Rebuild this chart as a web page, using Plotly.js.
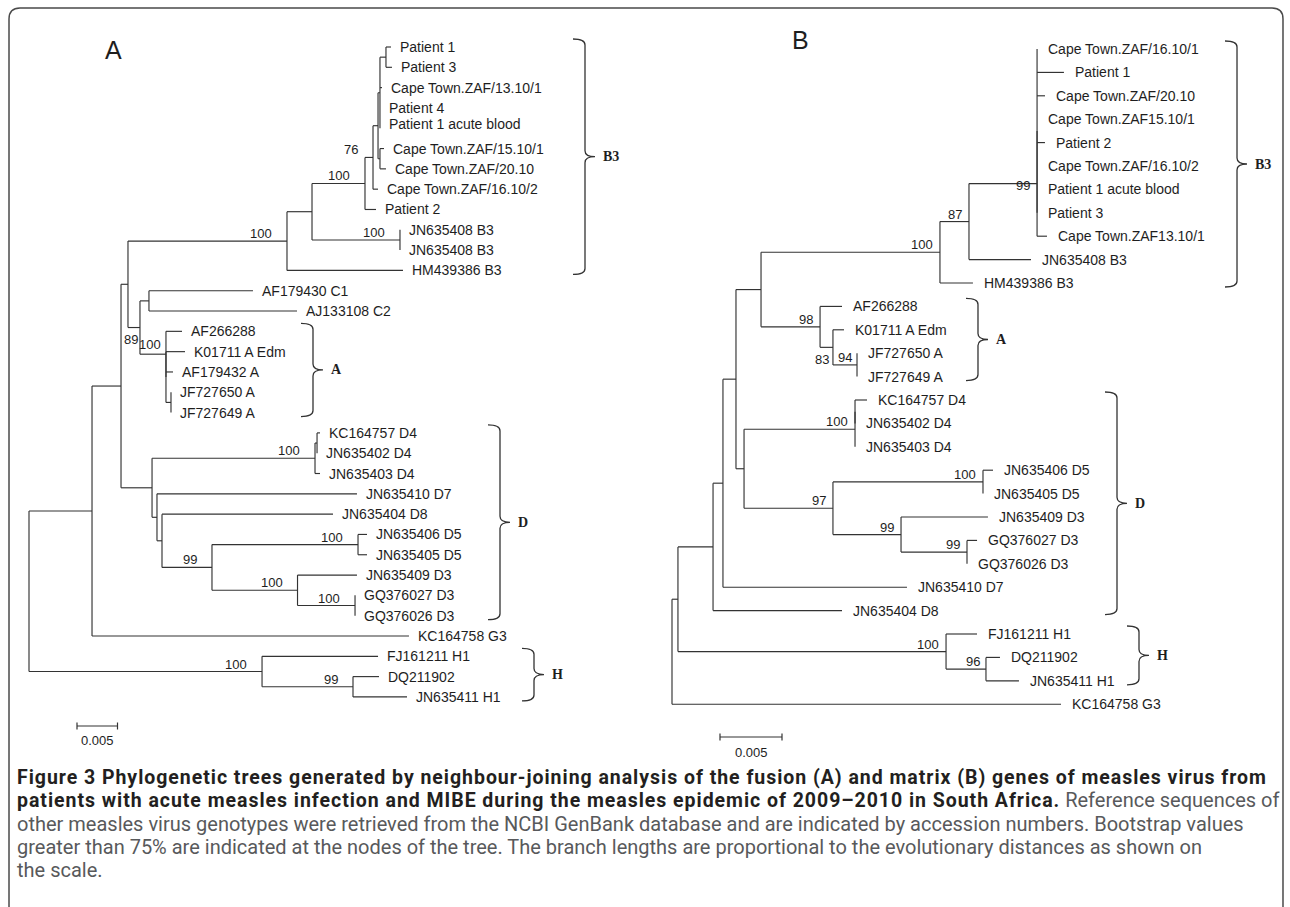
<!DOCTYPE html>
<html>
<head>
<meta charset="utf-8">
<script src="https://cdn.plot.ly/plotly-3.0.1.min.js"></script>
<style>
html,body{margin:0;padding:0;background:#fff;}
#chart{width:1290px;height:907px;}
</style>
</head>
<body>
<div id="chart"></div>
<script>
// ================= DATA =================
// Tree A : fusion gene (node id, parent id, distance from root, bootstrap, leaf label)
const A_node = ['R','N1','N2','N3','N4','N6','N7','N9','N10','N10a','N13','a1','a2','a3','a4','a5','N12','a6','a7','a8','a9','N8','a10','a11','a12','N5','N14','a13','a14','N15','a15','N15b','a16','a17','N16','a18','a19','ND','ND4','ND4b','a20','a21','a22','NDb','a23','NDc','a24','NDd','ND5','a25','a26','ND3','a27','NGQ','a28','a29','a30','NH','a31','NH2','a32','a33'];
const A_parent = ['','R','N1','N2','N3','N4','N6','N7','N9','N10','N10a','N13','N13','N10a','N10a','N10a','N10','N12','N12','N9','N7','N6','N8','N8','N4','N3','N5','N14','N14','N5','N15','N15','N15b','N15b','N15b','N16','N16','N2','ND','ND4','ND4b','ND4b','ND4','ND','NDb','NDb','NDc','NDc','NDd','ND5','ND5','NDd','ND3','ND3','NGQ','NGQ','N1','R','NH','NH','NH2','NH2'];
const A_dist = [0,0.00778,0.01136,0.01222,0.03185,0.03494,0.04148,0.04247,0.04309,0.04333,0.04407,0.04469,0.04481,0.04358,0.04333,0.04333,0.04333,0.04383,0.04407,0.04309,0.04284,0.04580,0.04580,0.04580,0.04617,0.01370,0.01481,0.02765,0.03309,0.01691,0.01889,0.01691,0.01926,0.01778,0.01753,0.01753,0.01753,0.01519,0.03531,0.03556,0.03593,0.03556,0.03593,0.01580,0.04049,0.01642,0.03753,0.02259,0.04062,0.04173,0.04173,0.03315,0.04049,0.04025,0.04025,0.04025,0.04691,0.02877,0.04309,0.04000,0.04321,0.04667];
const A_boot = ['','','','','100','','100','76','','','','','','','','','','','','','','100','','','','89','','','','100','','','','','','','','','100','','','','','','','','','99','100','','','100','','100','','','','100','','99','',''];
const A_label = ['','','','','','','','','','','','Patient 1','Patient 3','Cape Town.ZAF/13.10/1','Patient 4','Patient 1 acute blood','','Cape Town.ZAF/15.10/1','Cape Town.ZAF/20.10','Cape Town.ZAF/16.10/2','Patient 2','','JN635408 B3','JN635408 B3','HM439386 B3','','','AF179430 C1','AJ133108 C2','','AF266288','','K01711 A Edm','AF179432 A','','JF727650 A','JF727649 A','','','','KC164757 D4','JN635402 D4','JN635403 D4','','JN635410 D7','','JN635404 D8','','','JN635406 D5','JN635405 D5','','JN635409 D3','','GQ376027 D3','GQ376026 D3','KC164758 G3','','FJ161211 H1','','DQ211902','JN635411 H1'];
const A_groups = ['B3','A','D','H'];
const A_groupFirst = ['a1','a15','a20','a31'];
const A_groupLast = ['a12','a19','a29','a33'];
const A_scaleLen = 0.005;

// Tree B : matrix gene
const B_node = ['RB','Nw','Nz','Ny','Nx','Nt','Nb3','N87','N99','N99a','b1','b2','b3','b4','b5','b6','b7','b8','b9','b10','b11','N98','b12','N83','b13','N94','b14','b15','NdD','ND4','ND4b','b16','b17','b18','N97','ND5','b19','b20','N99b','b21','N99c','b22','b23','b24','b25','NH','b26','NH96','b27','b28','b29'];
const B_parent = ['','RB','Nw','Nz','Ny','Nx','Nt','Nb3','N87','N99','N99a','N99a','N99a','N99a','N99a','N99a','N99a','N99a','N99','N87','Nb3','Nt','N98','N98','N83','N83','N94','N94','Nx','NdD','ND4','ND4b','ND4b','ND4','NdD','N97','ND5','ND5','N97','N99b','N99b','N99c','N99c','Ny','Nz','Nw','NH','NH','NH96','NH96','RB'];
const B_dist = [0,0.00048,0.00331,0.00411,0.00516,0.00718,0.02161,0.02395,0.02944,0.02944,0.02944,0.03161,0.03008,0.02944,0.03008,0.02944,0.02944,0.02944,0.03024,0.02895,0.02427,0.01194,0.01371,0.01298,0.01387,0.01492,0.01492,0.01492,0.00581,0.01476,0.01476,0.01573,0.01476,0.01476,0.01298,0.02508,0.02589,0.02508,0.01847,0.02548,0.02379,0.02460,0.02379,0.01895,0.01371,0.02210,0.02460,0.02532,0.02645,0.02798,0.03137];
const B_boot = ['','','','','','','100','87','99','','','','','','','','','','','','','98','','83','','94','','','','100','','','','','97','100','','','99','','99','','','','','100','','96','','',''];
const B_label = ['','','','','','','','','','','Cape Town.ZAF/16.10/1','Patient 1','Cape Town.ZAF/20.10','Cape Town.ZAF15.10/1','Patient 2','Cape Town.ZAF/16.10/2','Patient 1 acute blood','Patient 3','Cape Town.ZAF13.10/1','JN635408 B3','HM439386 B3','','AF266288','','K01711 A Edm','','JF727650 A','JF727649 A','','','','KC164757 D4','JN635402 D4','JN635403 D4','','','JN635406 D5','JN635405 D5','','JN635409 D3','','GQ376027 D3','GQ376026 D3','JN635410 D7','JN635404 D8','','FJ161211 H1','','DQ211902','JN635411 H1','KC164758 G3'];
const B_groups = ['B3','A','D','H'];
const B_groupFirst = ['b1','b12','b16','b26'];
const B_groupLast = ['b11','b15','b25','b28'];
const B_scaleLen = 0.005;

const captionLines = [
  {bold:'Figure 3 Phylogenetic trees generated by neighbour-joining analysis of the fusion (A) and matrix (B) genes of measles virus from', reg:''},
  {bold:'patients with acute measles infection and MIBE during the measles epidemic of 2009\u20132010 in South Africa.', reg:' Reference sequences of'},
  {bold:'', reg:'other measles virus genotypes were retrieved from the NCBI GenBank database and are indicated by accession numbers. Bootstrap values'},
  {bold:'', reg:'greater than 75% are indicated at the nodes of the tree. The branch lengths are proportional to the evolutionary distances as shown on'},
  {bold:'', reg:'the scale.'}
];

// ================= LAYOUT CONFIG =================
const W = 1290, H = 907;
const PANEL = {
  A: {xa:'x', ya:'y', rootPx:29, k:8100, y0:47, dy:20.31, leafDx:7, bsDx:-13,
      bar:{x:77, y:726, ly:740}, brX:[585,313,500,534], letter:{t:'A', x:113, y:50},
      nudge:{N5:{dx:13,dy:-19}, N15:{dx:10,dy:2}}, labelNudge:{a5:4}},
  B: {xa:'x2', ya:'y2', rootPx:672, k:12400, y0:49, dy:23.4, leafDx:9, bsDx:-5,
      bar:{x:720, y:737, ly:752}, brX:[1237,978,1117,1139], letter:{t:'B', x:800, y:40},
      nudge:{N83:{dx:3,dy:-20}, N99:{dx:0,dy:-9}, N94:{dx:2,dy:0}, NH96:{dx:1,dy:0}}, labelNudge:{}}
};
const LINE = '#333333', TXT = '#1e1e1e';
const LABEL_FONT = 'Liberation Sans, Arial, sans-serif';

function layoutTree(ids, parents, dists){
  const pos = {}; ids.forEach((id,i)=>pos[id]=i);
  const kids = ids.map(()=>[]); let root = 0;
  parents.forEach((p,i)=>{ if(p==='') root=i; else kids[pos[p]].push(i); });
  const y = new Array(ids.length); let leaf = 0;
  const walk = i => {
    if(!kids[i].length){ y[i] = leaf++; return; }
    kids[i].forEach(walk);
    const k = kids[i]; y[i] = (y[k[0]] + y[k[k.length-1]])/2;
  };
  walk(root);
  const xs=[], ys=[];
  kids.forEach((k,i)=>{
    if(!k.length) return;
    xs.push(dists[i], dists[i], null); ys.push(y[k[0]], y[k[k.length-1]], null);
    k.forEach(c=>{ xs.push(dists[i], dists[c], null); ys.push(y[c], y[c], null); });
  });
  return {pos, kids, y, xs, ys};
}

const traces = [], annotations = [], shapes = [];

function buildPanel(T, ids, parents, dists, boots, labels, groups, gFirst, gLast, scaleLen){
  const L = layoutTree(ids, parents, dists);
  const X = p => (p - T.rootPx)/T.k;
  const Y = p => (p - T.y0)/T.dy;
  traces.push({type:'scatter', mode:'lines', x:L.xs, y:L.ys, xaxis:T.xa, yaxis:T.ya,
    line:{color:LINE, width:1.15}, hoverinfo:'skip', showlegend:false});
  ids.forEach((id,i)=>{
    if(!L.kids[i].length){
      annotations.push({xref:T.xa, yref:T.ya, x:dists[i], y:L.y[i], text:labels[i],
        xanchor:'left', yanchor:'middle', xshift:T.leafDx, yshift:(T.labelNudge[id]||0), showarrow:false,
        font:{family:LABEL_FONT, size:14, color:TXT}});
    }
    if(boots[i] !== ''){
      const n = T.nudge[id] || {dx:0, dy:0};
      annotations.push({xref:T.xa, yref:T.ya, x:dists[i], y:L.y[i], text:String(boots[i]),
        xanchor:'right', yanchor:'bottom', xshift:T.bsDx + n.dx, yshift:-2 + n.dy, showarrow:false,
        font:{family:LABEL_FONT, size:13, color:TXT}});
    }
  });
  // clade brackets
  groups.forEach((g,gi)=>{
    const yT = T.y0 + L.y[L.pos[gFirst[gi]]]*T.dy - 8;
    const yB = T.y0 + L.y[L.pos[gLast[gi]]]*T.dy + 4;
    const yM = (yT+yB)/2, xp = T.brX[gi], w=12, t=10, r=6;
    const P = (px,py)=> X(px).toFixed(6)+','+Y(py).toFixed(4);
    const path = 'M'+P(xp-w,yT)+' Q'+P(xp,yT)+' '+P(xp,yT+r)+' L'+P(xp,yM-r)+' Q'+P(xp,yM)+' '+P(xp+t,yM)+
                 ' Q'+P(xp,yM)+' '+P(xp,yM+r)+' L'+P(xp,yB-r)+' Q'+P(xp,yB)+' '+P(xp-w,yB);
    shapes.push({type:'path', xref:T.xa, yref:T.ya, path:path, line:{color:LINE, width:1.3}});
    annotations.push({xref:T.xa, yref:T.ya, x:X(xp+t+6), y:Y(yM), text:'<b>'+g+'</b>',
      xanchor:'left', yanchor:'middle', showarrow:false,
      font:{family:'Liberation Serif, Times New Roman, serif', size:14, color:TXT}});
  });
  // scale bar
  const x0 = X(T.bar.x), x1 = x0 + scaleLen, yb = Y(T.bar.y), tk = 3.5/T.dy;
  shapes.push({type:'line', xref:T.xa, yref:T.ya, x0:x0, x1:x1, y0:yb, y1:yb, line:{color:LINE, width:1.2}});
  shapes.push({type:'line', xref:T.xa, yref:T.ya, x0:x0, x1:x0, y0:yb-tk, y1:yb+tk, line:{color:LINE, width:1.2}});
  shapes.push({type:'line', xref:T.xa, yref:T.ya, x0:x1, x1:x1, y0:yb-tk, y1:yb+tk, line:{color:LINE, width:1.2}});
  annotations.push({xref:T.xa, yref:T.ya, x:(x0+x1)/2, y:Y(T.bar.ly), text:String(scaleLen),
    xanchor:'center', yanchor:'middle', showarrow:false, font:{family:LABEL_FONT, size:13, color:TXT}});
  // panel letter
  annotations.push({xref:'paper', yref:'paper', x:T.letter.x/W, y:1-T.letter.y/H, text:T.letter.t,
    xanchor:'center', yanchor:'middle', showarrow:false, font:{family:LABEL_FONT, size:25, color:TXT}});
  return L;
}

buildPanel(PANEL.A, A_node, A_parent, A_dist, A_boot, A_label, A_groups, A_groupFirst, A_groupLast, A_scaleLen);
buildPanel(PANEL.B, B_node, B_parent, B_dist, B_boot, B_label, B_groups, B_groupFirst, B_groupLast, B_scaleLen);

// ---- caption: one multi-line annotation, sizes / spacing fitted to the reference line widths ----
const CAP_FONT = 'Roboto, "Open Sans", sans-serif';
function measure(text, weight, size){
  const NS = 'http://www.w3.org/2000/svg';
  const svg = document.createElementNS(NS,'svg');
  svg.setAttribute('width','10'); svg.setAttribute('height','10');
  svg.style.position = 'absolute'; svg.style.left = '-5000px'; svg.style.top = '0';
  const t = document.createElementNS(NS,'text');
  t.setAttribute('x','0'); t.setAttribute('y','50');
  t.style.fontFamily = CAP_FONT; t.style.fontSize = size+'px'; t.style.fontWeight = weight;
  t.textContent = text; svg.appendChild(t); document.body.appendChild(svg);
  const w = t.getComputedTextLength(); document.body.removeChild(svg);
  return w;
}
let boldSize = 19, regSize = 18.2, boldLS = 0;
try {
  const wr = measure(captionLines[2].reg, 'normal', 100);
  if(wr > 0) regSize = Math.min(20, 100*1237/wr);
  const wb = measure(captionLines[0].bold, 'bold', 100);
  if(wb > 0){
    boldSize = Math.min(19.5, 100*1249/wb);
    const wAt = wb*boldSize/100, n = captionLines[0].bold.length;
    boldLS = Math.max(0, (1249 - wAt)/(n - 1));
  }
} catch(e) {}
function capText(ln){
  let txt = '';
  if(ln.bold) txt += '<b><span style="color:#231f20;font-size:'+boldSize.toFixed(2)+'px;letter-spacing:'+boldLS.toFixed(3)+'px">'+ln.bold+'</span></b>';
  if(ln.reg) txt += '<span style="color:#58595b;font-size:'+regSize.toFixed(2)+'px">'+ln.reg+'</span>';
  return txt;
}
const capStep = 23.3, capY0 = 777;
annotations.push({xref:'paper', yref:'paper', x:17/W, y:1-(capY0+2*capStep)/H,
  text:captionLines.map(capText).join('<br>'), align:'left',
  xanchor:'left', yanchor:'middle', showarrow:false, borderpad:0, borderwidth:0,
  font:{family:CAP_FONT, size:capStep/1.3, color:'#58595b'}});

// outer rounded frame
const fx0=9, fy0=8, fx1=1283, fr=11, fyb=930;
const PX = (x,y)=> (x/W).toFixed(5)+','+(1-y/H).toFixed(5);
shapes.push({type:'path', xref:'paper', yref:'paper', line:{color:'#4a4a4a', width:1.5},
  path:'M'+PX(fx0,fyb)+' L'+PX(fx0,fy0+fr)+' Q'+PX(fx0,fy0)+' '+PX(fx0+fr,fy0)+' L'+PX(fx1-fr,fy0)+
       ' Q'+PX(fx1,fy0)+' '+PX(fx1,fy0+fr)+' L'+PX(fx1,fyb)});

function rng(T){ return {x:[(0-T.rootPx)/T.k, (W-T.rootPx)/T.k], y:[(H-T.y0)/T.dy, (0-T.y0)/T.dy]}; }
const rA = rng(PANEL.A), rB = rng(PANEL.B);
const ax = {visible:false, showgrid:false, zeroline:false, fixedrange:true};
const layout = {
  width:W, height:H, margin:{l:0,r:0,t:0,b:0}, autosize:false,
  paper_bgcolor:'#ffffff', plot_bgcolor:'rgba(0,0,0,0)', showlegend:false,
  xaxis: Object.assign({domain:[0,1], range:rA.x, anchor:'y'}, ax),
  yaxis: Object.assign({domain:[0,1], range:rA.y, anchor:'x'}, ax),
  xaxis2: Object.assign({overlaying:'x', range:rB.x, anchor:'y2'}, ax),
  yaxis2: Object.assign({overlaying:'y', range:rB.y, anchor:'x2'}, ax),
  annotations: annotations, shapes: shapes
};
Plotly.newPlot('chart', traces, layout, {staticPlot:true, displayModeBar:false});
</script>
</body>
</html>
